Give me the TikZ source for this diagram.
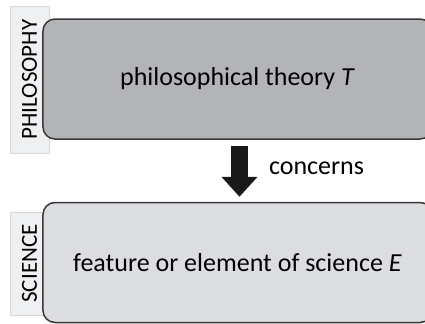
\documentclass[tikz,border=0pt]{standalone}
\usepackage{fontspec}
\setmainfont{Carlito}
\usetikzlibrary{arrows.meta,positioning}
\definecolor{philo}{HTML}{B3B4B8}
\definecolor{scien}{HTML}{DCDDE0}
\definecolor{tagfill}{HTML}{EFF0F2}
\definecolor{tagline}{HTML}{D6D7DA}
\definecolor{edge}{HTML}{383838}
\tikzset{
  level/.style={draw=edge, line width=0.75pt, rounded corners=6pt,
    minimum width=194.5pt, minimum height=60pt, inner sep=0pt, font=\fontsize{13}{15}\selectfont},
  tag/.style={draw=tagline, fill=tagfill, line width=0.4pt, rotate=90, inner sep=0pt,
    minimum height=19.5pt, font=\fontsize{11.5}{13}\selectfont},
  bigarr/.style={-{Triangle[length=10pt,width=17.5pt]}, line width=8.5pt, black!90},
  lab/.style={font=\fontsize{13}{15}\selectfont},
}

\begin{document}
\begin{tikzpicture}[x=0.5pt,y=-0.5pt]
\useasboundingbox (0,0) rectangle (425,323);
\clip (0,0) rectangle (425,323);

% ===================== side tags =====================
\node[tag, minimum width=73.5pt] (philotag) at (29.5,79.5) {PHILOSOPHY};
\node[tag, minimum width=51.5pt] (sciencetag) at (29.5,263.5) {SCIENCE};

% ===================== the two levels =====================
\node[level, fill=philo] (theory) at (237.5,79) {philosophical theory \textit{T}};
\node[level, fill=scien] (element) at (237.5,262.5) {feature or element of science \textit{E}};

% relation between them
\draw[bigarr] ([xshift=1pt,yshift=-3pt]theory.south) -- ([xshift=1pt,yshift=2.5pt]element.north);
\node[lab, anchor=west] (concerns) at (262,168) {concerns};

\end{tikzpicture}
\end{document}
